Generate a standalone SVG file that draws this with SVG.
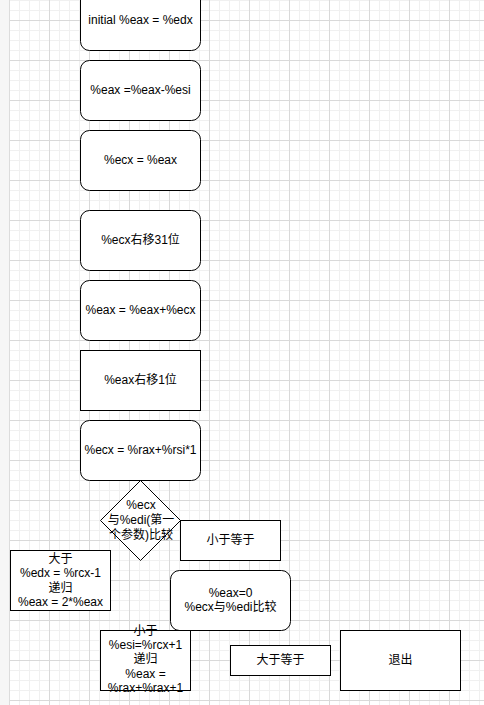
<svg xmlns="http://www.w3.org/2000/svg" width="484" height="705" viewBox="0 0 484 705">
  <defs>
    <pattern id="minor" x="9" y="0" width="10" height="10" patternUnits="userSpaceOnUse">
      <path d="M0.5 0V10M0 0.5H10" fill="none" stroke="#f0f0f0" stroke-width="1"/>
    </pattern>
    <pattern id="major" x="9" y="20" width="40" height="40" patternUnits="userSpaceOnUse">
      <path d="M0.5 0V40M0 0.5H40" fill="none" stroke="#d9d9d9" stroke-width="1"/>
    </pattern>
  </defs>
  <style>
    .box { fill: #ffffff; stroke: #000000; stroke-width: 1; }
    .t { font-family: "Liberation Sans", Arial, "Noto Sans CJK SC", sans-serif; font-size: 12px; fill: #000000; text-anchor: middle; }
  </style>
  <rect x="0" y="0" width="484" height="705" fill="#ffffff"/>
  <rect x="9" y="0" width="475" height="705" fill="url(#minor)"/>
  <rect x="9" y="0" width="475" height="705" fill="url(#major)"/>
  <rect x="0" y="0" width="9" height="705" fill="#f6f6f6"/>
  <line x1="9.5" y1="0" x2="9.5" y2="705" stroke="#dcdcdc"/>

  <g id="connectors"/>

  <g id="n1">
    <rect class="box" x="80.5" y="-9.5" width="120" height="60" rx="9"/>
    <text class="t" x="140.5" y="24">initial %eax = %edx</text>
  </g>
  <g id="n2">
    <rect class="box" x="80.5" y="60.5" width="120" height="60" rx="9"/>
    <text class="t" x="140.5" y="94">%eax =%eax-%esi</text>
  </g>
  <g id="n3">
    <rect class="box" x="80.5" y="130.5" width="120" height="60" rx="9"/>
    <text class="t" x="140.5" y="164">%ecx = %eax</text>
  </g>
  <g id="n4">
    <rect class="box" x="80.5" y="210.5" width="120" height="60" rx="9"/>
    <text class="t" x="140.5" y="244">%ecx右移31位</text>
  </g>
  <g id="n5">
    <rect class="box" x="80.5" y="280.5" width="120" height="60" rx="9"/>
    <text class="t" x="140.5" y="314">%eax = %eax+%ecx</text>
  </g>
  <g id="n6">
    <rect class="box" x="80.5" y="350.5" width="120" height="60"/>
    <text class="t" x="140.5" y="384">%eax右移1位</text>
  </g>
  <g id="n7">
    <rect class="box" x="80.5" y="420.5" width="120" height="60" rx="9"/>
    <text class="t" x="140.5" y="454">%ecx = %rax+%rsi*1</text>
  </g>
  <g id="n8">
    <path class="box" d="M140.5 480.5L180.5 520.5L140.5 560.5L100.5 520.5Z"/>
    <text class="t" x="141" y="509">%ecx</text>
    <text class="t" x="141" y="524">与%edi(第一</text>
    <text class="t" x="141" y="539">个参数)比较</text>
  </g>
  <g id="n9">
    <rect class="box" x="180.5" y="520.5" width="100" height="40"/>
    <text class="t" x="230.5" y="544">小于等于</text>
  </g>
  <g id="n10">
    <rect class="box" x="170.5" y="570.5" width="120" height="60" rx="9"/>
    <text class="t" x="230.5" y="597">%eax=0</text>
    <text class="t" x="230.5" y="611.4">%ecx与%edi比较</text>
  </g>
  <g id="n11">
    <rect class="box" x="10.5" y="550.5" width="100" height="60"/>
    <text class="t" x="60.5" y="563">大于</text>
    <text class="t" x="60.5" y="577.4">%edx = %rcx-1</text>
    <text class="t" x="60.5" y="591.8">递归</text>
    <text class="t" x="60.5" y="606.2">%eax = 2*%eax</text>
  </g>
  <g id="n12">
    <rect class="box" x="100.5" y="630.5" width="90" height="60"/>
    <text class="t" x="145.5" y="634.5">小于</text>
    <text class="t" x="145.5" y="648.9">%esi=%rcx+1</text>
    <text class="t" x="145.5" y="663.3">递归</text>
    <text class="t" x="145.5" y="677.7">%eax =</text>
    <text class="t" x="145.5" y="692.1">%rax+%rax+1</text>
  </g>
  <g id="n13">
    <rect class="box" x="230.5" y="645.5" width="100" height="30"/>
    <text class="t" x="280.5" y="664">大于等于</text>
  </g>
  <g id="n14">
    <rect class="box" x="340.5" y="630.5" width="120" height="60"/>
    <text class="t" x="400.5" y="664">退出</text>
  </g>
</svg>
